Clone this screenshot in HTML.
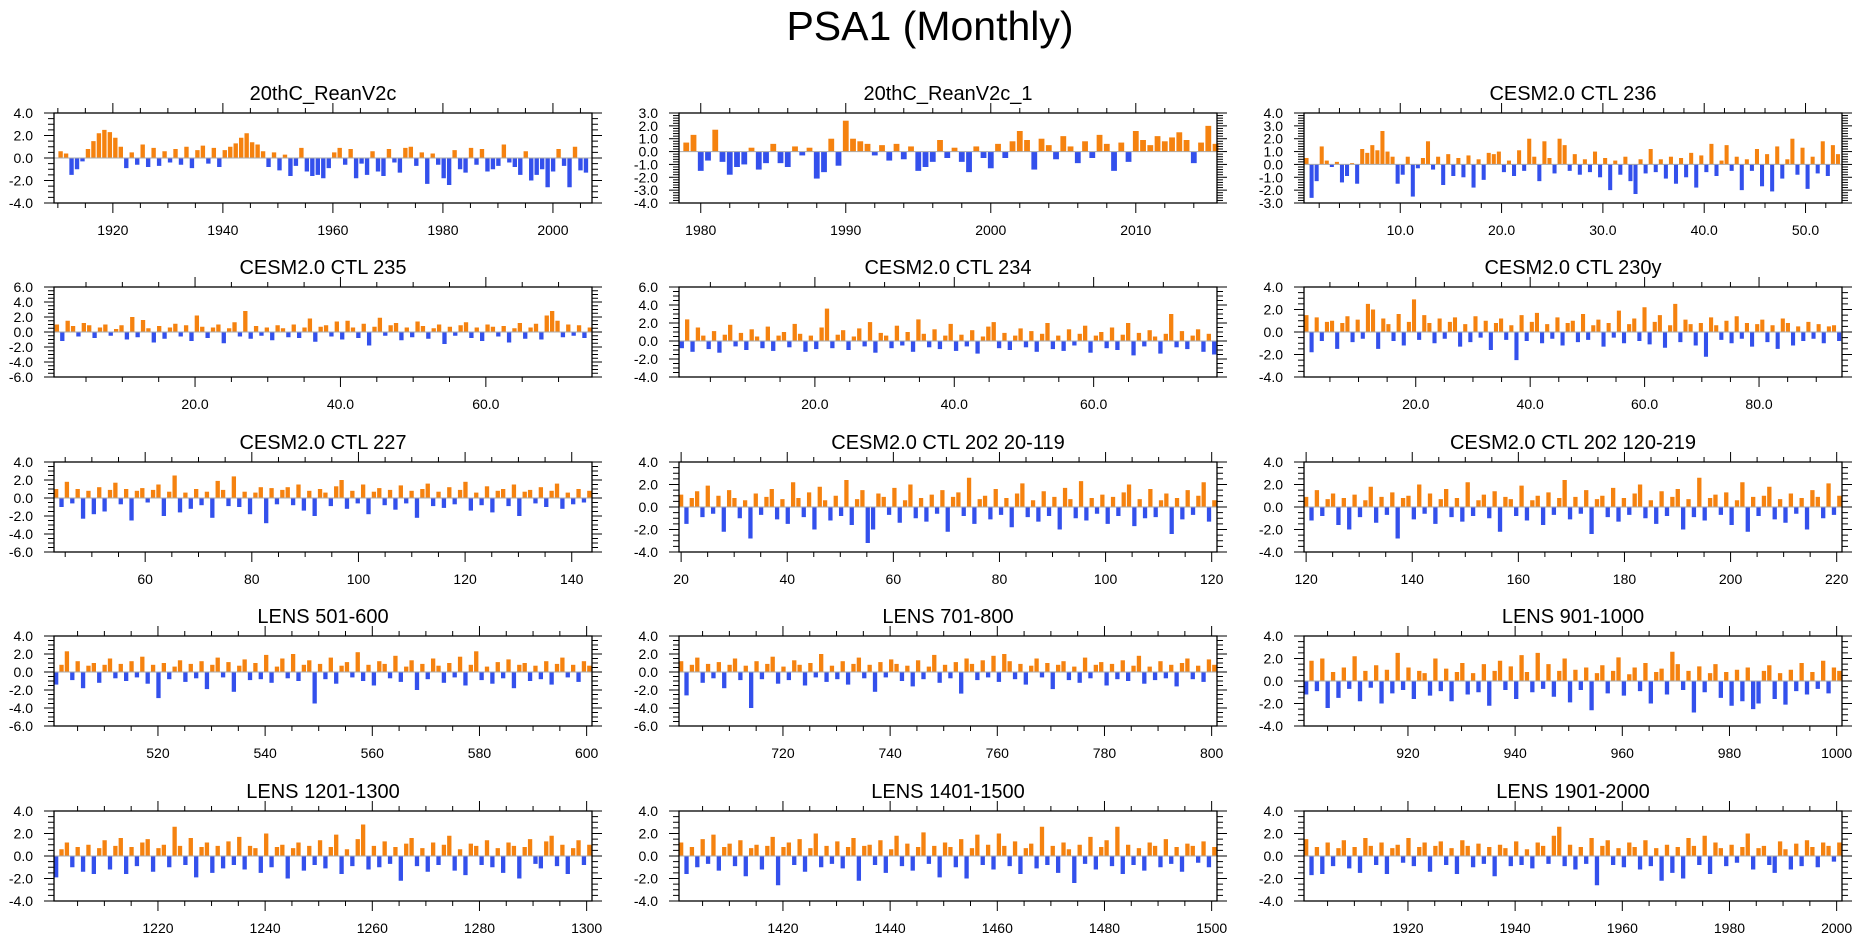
<!DOCTYPE html>
<html><head><meta charset="utf-8"><title>PSA1 (Monthly)</title>
<style>
html,body{margin:0;padding:0;background:#fff;}
svg{display:block;font-family:"Liberation Sans",Arial,sans-serif;}
</style></head>
<body>
<svg id="chart" width="1861" height="936" viewBox="0 0 1861 936" xmlns="http://www.w3.org/2000/svg">
<rect width="1861" height="936" fill="#fff"/>
<text x="930" y="40" font-size="41" text-anchor="middle" fill="#000">PSA1 (Monthly)</text>
</svg>
<script>
const p1Values=[0.6,0.4,-1.5,-1.0,-0.3,0.8,1.5,2.2,2.5,2.3,1.8,1.0,-0.9,0.5,-0.6,1.2,-0.8,0.9,-0.7,0.6,-0.4,0.8,-0.6,1.0,-0.9,0.7,1.1,-0.5,0.9,-0.8,0.7,1.0,1.3,1.8,2.2,1.4,1.2,0.6,-0.8,0.5,-1.1,0.3,-1.6,-0.7,0.9,-1.2,-1.6,-1.5,-1.8,-0.9,0.5,0.9,-0.6,0.8,-1.8,-0.5,-1.5,0.6,-1.2,-1.6,0.8,-0.4,-1.3,0.9,1.0,-0.7,0.5,-2.3,0.4,-0.6,-1.8,-2.4,0.7,-1.0,-1.3,0.9,-0.6,0.8,-1.2,-1.0,-0.7,1.2,-0.4,-0.8,-1.5,0.6,-2.0,-1.5,-1.0,-2.6,-1.2,0.8,-0.7,-2.6,1.0,-1.1,-1.3];
const p2Values=[0.7,1.3,-1.5,-0.7,1.7,-0.8,-1.8,-1.2,-1.0,0.3,-1.4,-0.9,0.6,-0.9,-1.2,0.4,-0.3,0.3,-2.1,-1.6,1.0,-1.1,2.4,1.0,0.8,0.6,-0.3,0.5,-0.7,0.6,-0.6,0.4,-1.5,-1.2,-0.8,0.9,-0.5,0.3,-0.8,-1.6,0.4,-0.5,-1.3,0.6,-0.5,0.8,1.6,0.9,-1.4,1.0,0.5,-0.6,1.2,0.4,-0.9,0.8,-0.5,1.3,0.6,-1.5,0.7,-0.8,1.6,0.9,0.5,1.2,0.8,1.1,1.5,0.9,-0.9,0.7,2.0,0.6];
const p3Values=[0.5,-2.6,-1.3,1.4,0.3,-0.2,0.2,-1.4,-0.9,0.1,-1.5,1.2,0.9,1.5,1.1,2.6,1.0,0.6,-1.5,-0.8,0.6,-2.5,-0.3,0.5,1.8,-0.4,0.6,-1.6,0.8,-0.9,0.5,-1.0,0.7,-1.8,0.4,-1.2,0.9,0.8,1.0,-0.6,0.3,-0.9,1.1,-0.5,2.0,0.6,-1.3,1.8,0.5,-0.7,2.0,1.5,-0.5,0.8,-0.8,0.4,-0.6,1.0,-1.0,0.5,-2.0,0.3,-0.8,0.6,-1.3,-2.3,0.4,-0.7,1.2,-0.6,0.4,-1.1,0.6,-1.5,0.5,-1.0,0.9,-1.8,0.7,-0.6,1.6,-0.9,0.3,1.5,-0.5,0.6,-2.0,0.4,-0.5,1.2,-1.7,0.8,-2.1,1.4,-1.1,0.4,2.0,-0.8,1.3,-1.9,0.6,-0.7,1.8,-0.9,1.5,0.8];
const p4Values=[1.0,-1.2,1.5,0.8,-0.6,1.2,0.9,-0.8,0.6,1.0,-0.5,0.4,0.9,-1.0,2.0,-0.7,1.6,0.5,-1.4,0.8,-0.9,0.6,1.1,-0.6,0.9,-1.2,2.2,0.7,-0.8,0.6,1.0,-1.5,0.5,1.3,-0.6,2.8,-0.9,0.8,-0.5,0.6,-1.1,0.9,0.5,-0.7,1.0,-0.8,0.6,1.8,-1.3,0.7,0.9,-0.6,1.4,-1.0,1.5,0.6,-0.8,1.1,-1.8,0.7,1.9,-0.5,0.9,1.2,-1.1,0.6,-0.7,1.4,0.8,-0.9,0.5,1.0,-1.6,0.7,-0.5,0.9,1.3,-0.8,0.6,-1.2,1.0,0.7,-0.6,0.8,-1.4,0.5,1.2,-0.9,0.6,1.1,-1.0,2.2,2.8,1.5,-0.7,1.0,-0.5,0.9,-0.8,0.6];
const p5Values=[-0.8,2.4,-1.2,1.5,0.6,-0.9,1.1,-1.3,0.7,1.8,-0.6,0.9,-1.0,1.3,0.5,-0.8,1.6,-1.1,0.6,1.0,-0.7,1.9,0.8,-1.2,0.6,-0.9,1.5,3.6,-0.8,0.7,1.2,-1.0,0.5,1.4,-0.6,2.1,-1.3,0.9,0.6,-0.8,1.7,-0.5,1.0,-1.2,2.4,0.8,-0.7,1.3,-0.9,0.6,1.9,-1.1,0.7,-0.6,1.2,-1.4,0.5,1.6,2.1,-0.8,0.9,-1.0,0.6,1.4,-0.7,1.1,-1.2,0.8,2.0,-0.9,0.6,-1.1,1.3,-0.5,0.8,1.7,-1.3,0.6,1.0,-0.8,1.5,-1.0,0.7,2.0,-1.6,0.9,-0.6,1.2,0.5,-1.4,0.8,3.0,-0.7,1.1,-0.9,0.6,1.3,-1.2,0.8,-1.5];
const p6Values=[1.5,-1.8,1.3,-0.8,0.9,1.0,-1.5,0.8,1.4,-0.9,1.1,-0.6,2.5,2.0,-1.5,1.2,0.7,-0.8,1.6,-1.2,0.9,2.9,-0.7,1.5,0.8,-1.0,1.2,-0.6,0.9,1.3,-1.3,0.7,-0.9,1.4,-0.5,1.0,-1.6,0.8,1.2,-0.7,0.6,-2.5,1.5,-0.8,0.9,1.7,-1.0,0.7,-0.6,1.3,-1.2,0.8,1.0,-0.9,1.6,-0.7,0.6,1.1,-1.3,0.8,-0.5,1.9,-1.0,0.7,1.2,-0.8,2.2,-1.1,0.9,1.5,-1.4,0.6,2.5,-0.9,1.1,0.7,-1.2,0.8,-2.2,1.3,0.6,-0.7,1.0,-1.0,1.4,-0.6,0.8,-1.3,0.7,1.1,-0.9,0.6,-1.5,1.2,0.8,-1.2,0.5,-0.8,0.9,-0.6,0.7,-1.0,0.5,0.6,-0.8];
const p7Values=[1.0,-1.0,1.8,-0.6,1.0,-2.3,0.8,-1.8,1.2,-1.5,0.9,1.7,-0.7,1.0,-2.5,0.8,1.1,-0.5,0.9,1.5,-2.0,0.7,2.5,-1.6,0.6,-1.2,1.0,-0.8,0.7,-2.2,1.9,0.9,-0.9,2.4,-1.0,0.7,-1.8,0.6,1.2,-2.8,1.1,-0.7,0.9,1.2,-0.8,1.5,-1.4,0.8,-2.0,1.0,0.6,-0.9,1.3,2.0,-1.2,0.8,-0.6,1.5,-1.8,0.7,1.1,-0.8,0.9,-1.3,1.4,-0.6,0.8,-2.2,1.0,1.6,-0.9,0.7,-1.1,1.2,-0.7,0.9,1.8,-1.4,0.6,-0.8,1.3,-1.6,0.8,1.0,-0.9,1.5,-2.0,0.7,0.9,-0.6,1.2,-1.0,0.8,1.6,-1.2,0.6,-0.7,1.0,-0.5,0.8];
const p8Values=[1.1,-1.5,0.8,1.4,-0.9,1.9,-0.6,1.0,-2.2,1.5,0.8,-1.0,0.6,-2.8,1.2,-0.7,0.9,1.6,-1.1,0.7,-1.5,2.2,0.8,-0.9,1.3,-2.0,1.8,0.6,-1.2,1.0,-0.8,2.4,-1.6,0.7,1.5,-3.2,-2.0,1.2,0.9,-0.7,1.7,-1.4,0.6,2.0,-1.0,0.8,-1.3,1.1,-0.6,1.5,-2.2,0.9,1.3,-0.8,2.6,-1.5,0.7,1.0,-1.1,1.6,-0.7,0.8,-1.8,1.2,2.1,-0.9,0.6,-1.3,1.4,-0.8,0.9,-2.0,1.7,0.7,-1.0,2.3,-1.2,0.8,-0.6,1.1,-1.5,0.9,-0.8,1.3,2.0,-1.7,0.7,-1.0,1.6,-0.9,0.6,1.2,-2.4,0.8,-1.1,1.5,-0.7,1.0,2.2,-1.3,0.6];
const p9Values=[0.9,-1.2,1.5,-0.8,0.7,1.2,-1.6,0.8,-2.0,1.1,-0.9,0.6,1.8,-1.4,0.9,-0.7,1.3,-2.8,0.8,1.0,-1.1,2.0,-0.6,1.2,-1.5,0.7,1.6,-0.9,0.8,-1.3,2.2,-0.8,0.6,1.1,-1.0,1.4,-2.2,0.9,0.7,-0.8,1.9,-1.2,0.6,1.0,-1.6,1.3,-0.7,0.8,2.4,-1.1,0.9,-0.6,1.5,-2.4,0.7,1.0,-0.9,1.7,-1.3,0.8,-0.7,1.2,2.0,-1.0,0.6,-1.5,1.4,-0.8,0.9,1.6,-2.0,0.7,-0.9,2.6,-1.2,0.8,1.1,-0.7,1.3,-1.6,0.6,2.2,-2.2,0.9,-0.8,1.0,1.8,-1.1,0.7,-1.4,1.2,-0.6,0.8,-2.0,1.5,0.9,-1.0,2.1,-0.7,1.0];
const p10Values=[-1.4,0.8,2.3,-0.9,1.2,-1.8,0.7,1.0,-1.2,0.8,1.5,-0.7,0.9,-1.0,1.2,-0.6,1.7,-1.3,0.8,-2.9,1.0,-0.8,0.6,1.3,-1.1,0.9,-0.7,1.2,-1.9,0.8,1.6,-0.6,1.1,-2.2,0.7,1.4,-0.9,1.0,-0.8,1.9,-1.2,0.6,1.5,-0.7,2.0,-1.0,0.8,1.3,-3.5,0.9,-0.8,1.6,-1.3,0.7,1.1,-0.6,2.2,-1.0,0.8,-1.5,1.2,0.9,-0.7,1.8,-1.1,0.6,1.3,-2.0,0.9,-0.8,1.5,0.7,-1.2,1.0,-0.6,1.7,-1.5,0.8,2.3,-0.9,0.6,-1.3,1.1,-0.7,1.4,-1.8,0.8,1.0,-1.0,0.7,-0.8,1.2,-1.4,0.9,1.6,-0.6,0.8,-1.1,1.2,0.7];
const p11Values=[1.2,-2.6,0.8,1.6,-1.2,0.9,-0.7,1.1,-1.8,0.8,1.5,-0.9,0.7,-4.0,1.2,-0.8,0.9,1.7,-1.3,0.6,-0.9,1.3,0.8,-1.5,1.0,-0.6,2.0,-1.1,0.7,-0.8,1.2,-1.4,0.9,1.6,-0.7,0.8,-2.2,1.1,-0.6,1.4,0.9,-1.0,0.7,-1.6,1.3,-0.8,0.6,1.9,-1.2,0.8,-0.7,1.1,-2.4,1.5,0.9,-0.9,1.3,-0.6,1.8,-1.1,2.0,1.2,-0.8,0.9,-1.4,0.7,1.5,-0.6,1.0,-1.9,0.8,1.2,-0.9,0.6,-1.2,1.6,-0.7,0.8,1.1,-1.5,0.9,-0.8,1.3,-1.0,0.7,1.8,-1.3,0.6,-0.9,1.2,-0.7,0.8,-1.6,1.0,1.5,-0.8,0.7,-1.1,1.4,0.8];
const p12Values=[-1.2,1.8,-0.9,2.0,-2.4,0.8,-1.5,1.2,-0.7,2.2,-1.8,0.9,-0.6,1.4,-2.0,1.0,-1.1,2.5,-0.8,1.2,-1.6,0.9,0.7,-1.3,2.0,-0.9,1.1,-1.8,0.8,1.6,-1.2,0.7,-1.0,1.5,-2.2,0.9,1.8,-0.8,1.3,-1.6,2.3,0.8,-1.0,2.5,-0.7,1.5,-1.4,0.9,2.0,-1.9,1.0,-0.8,1.2,-2.6,0.7,1.4,-1.1,0.9,2.1,-1.3,0.6,1.2,-0.9,1.6,-2.0,0.8,1.1,-1.2,2.6,1.5,-0.8,0.9,-2.8,1.3,-1.0,0.7,1.5,-1.5,0.8,-2.2,1.0,-1.8,1.2,-2.5,-2.0,0.9,1.4,-1.6,0.7,-2.1,1.0,-0.9,1.6,-1.2,0.8,-0.7,1.8,-1.1,1.2,0.9];
const p13Values=[-1.9,0.6,1.2,-1.0,0.8,-1.4,1.0,-1.6,0.7,1.4,-1.2,0.9,1.6,-1.6,0.8,-0.9,1.2,1.5,-1.4,0.7,1.0,-1.0,2.6,0.9,-0.8,1.6,-1.9,0.8,1.2,-1.5,0.9,-1.1,1.3,-0.8,1.7,-1.2,0.9,0.7,-1.5,2.0,-1.0,0.8,1.0,-2.0,0.7,1.2,-1.3,0.9,-0.8,1.4,-1.1,0.8,1.9,-1.6,0.6,-0.9,1.5,2.8,-1.2,0.9,-1.0,1.3,-0.7,0.8,-2.2,1.1,1.6,-0.9,0.7,-1.4,1.2,-0.8,1.0,1.8,-1.3,0.6,-1.7,1.1,0.9,-0.8,1.4,-1.0,0.7,-1.5,1.2,0.9,-2.0,0.8,1.5,-0.7,-1.1,1.3,1.8,-0.9,1.0,-1.6,0.7,1.4,-0.8,1.0];
const p14Values=[1.2,-1.6,0.8,-1.0,1.5,-0.7,1.9,-1.3,0.8,1.1,-0.9,1.4,-1.8,0.7,1.0,-1.2,0.9,1.7,-2.6,0.8,1.2,-0.8,1.5,-1.4,0.7,2.0,-1.0,0.9,-0.7,1.3,-1.1,0.8,1.6,-2.2,0.9,1.0,-0.8,1.4,-1.5,0.6,1.8,-0.9,1.1,-1.3,0.8,2.1,-0.7,0.9,-1.9,1.2,0.8,-1.0,1.5,-2.0,0.7,1.9,-0.8,1.0,-1.2,2.0,0.9,-0.9,1.3,-1.6,0.7,1.1,-1.1,2.6,-0.8,0.9,-1.5,1.2,0.6,-2.4,1.0,-0.7,1.7,-1.2,0.8,1.4,-0.9,2.6,-1.6,1.0,-0.8,0.7,-1.3,1.2,0.9,-1.0,1.5,-0.7,0.8,-1.4,1.1,0.9,-0.6,1.3,-1.0,0.8];
const p15Values=[1.5,-1.7,0.8,-1.6,1.2,-0.9,0.7,1.4,-1.1,0.8,-1.5,1.6,0.9,-0.8,1.2,-1.6,0.7,1.0,-0.6,1.6,-0.9,0.8,1.2,-1.4,0.9,1.3,-0.8,0.7,-1.6,1.4,0.9,-1.0,1.1,-0.7,0.8,-1.8,1.0,0.7,-0.9,1.3,-0.8,0.6,-1.1,1.2,0.9,-0.7,1.8,2.6,-0.9,1.0,-1.2,0.8,-0.7,1.6,-2.6,0.9,1.4,-0.8,0.7,-1.0,1.2,0.8,-1.2,1.4,-0.9,0.7,-2.2,1.0,-1.5,0.8,-2.0,1.6,0.9,-0.8,1.8,-1.6,1.2,0.7,-0.9,1.0,-0.6,0.8,2.0,-1.2,0.7,0.9,-0.8,-1.5,1.3,0.6,-1.2,1.1,-0.9,1.4,0.8,-1.0,1.2,0.9,-0.5,1.2];

const panelTitles=["20thC_ReanV2c","20thC_ReanV2c_1","CESM2.0 CTL 236","CESM2.0 CTL 235","CESM2.0 CTL 234","CESM2.0 CTL 230y","CESM2.0 CTL 227","CESM2.0 CTL 202 20-119","CESM2.0 CTL 202 120-219","LENS 501-600","LENS 701-800","LENS 901-1000","LENS 1201-1300","LENS 1401-1500","LENS 1901-2000"];
const panelValues=[p1Values,p2Values,p3Values,p4Values,p5Values,p6Values,p7Values,p8Values,p9Values,p10Values,p11Values,p12Values,p13Values,p14Values,p15Values];
// axis ranges: [xmin,xmax,dataStart,dataEnd,xMajor,xMinor,xDecimals,ymin,ymax,yMajor,yMinor]
const axisRanges=[
 [1909.3,2007.1,1910.5,2006.0,20,5,0,-4,4,2,0.5],
 [1978.5,2015.6,1979.0,2015.5,10,2,0,-4,3,1,0.2],
 [0.5,53.6,0.75,53.2,10,2,1,-3,4,1,0.2],
 [0.6,74.6,1.0,74.3,20,5,1,-6,6,2,0.5],
 [0.5,77.7,0.9,77.3,20,5,1,-4,6,2,0.5],
 [0.47,94.5,0.9,94.0,20,5,1,-4,4,2,0.5],
 [42.9,143.8,43.3,143.3,20,5,0,-6,4,2,0.5],
 [19.6,121.0,20.0,120.5,20,5,0,-4,4,2,0.5],
 [119.6,221.0,120.0,220.5,20,5,0,-4,4,2,0.5],
 [500.6,601.0,501.0,600.5,20,5,0,-6,4,2,0.5],
 [700.6,801.0,701.0,800.5,20,5,0,-6,4,2,0.5],
 [900.6,1001.0,901.0,1000.5,20,5,0,-4,4,2,0.5],
 [1200.6,1301.0,1201.0,1300.5,20,5,0,-4,4,2,0.5],
 [1400.6,1501.0,1401.0,1500.5,20,5,0,-4,4,2,0.5],
 [1900.6,2001.0,1901.0,2000.5,20,5,0,-4,4,2,0.5]
];

const NS="http://www.w3.org/2000/svg";
const svg=document.getElementById('chart');
const colX=[54,679,1304], rowY=[113,287,462,636,811], PW=538, PH=90;
function mk(tag,attrs,parent){const e=document.createElementNS(NS,tag);for(const k in attrs)e.setAttribute(k,attrs[k]);parent.appendChild(e);return e;}

panelValues.forEach((vals,p)=>{
  const [xmin,xmax,ds,de,xMaj,xMin,xDec,ymin,ymax,yMaj,yMin]=axisRanges[p];
  const L=colX[p%3], T=rowY[Math.floor(p/3)];
  const g=mk('g',{},svg);
  
  
  const sx=x=>L+(x-xmin)/(xmax-xmin)*PW;
  const sy=y=>T+(ymax-y)/(ymax-ymin)*PH;
  const t=mk('text',{x:L+PW/2,y:T-13,'font-size':20,'text-anchor':'middle',fill:'#000'},g);
  t.textContent=panelTitles[p];
  
  
  const n=vals.length, step=(de-ds)/(n-1);
  const bw=Math.max(1.2,(sx(ds+step)-sx(ds))*0.8);
  const y0=sy(0);
  vals.forEach((v,i)=>{
    const cx=sx(ds+i*step), yv=sy(v);
    const r=mk('rect',{x:(cx-bw/2).toFixed(2),y:Math.min(y0,yv).toFixed(2),width:bw.toFixed(2),height:Math.abs(yv-y0).toFixed(2),fill:v>=0?'#f5820f':'#3350ec'},g);
    
    
  });
  mk('line',{x1:L,x2:L+PW,y1:y0,y2:y0,stroke:'#aaa','stroke-width':1},g);
  const b=mk('rect',{x:L,y:T,width:PW,height:PH,fill:'none',stroke:'#000','stroke-width':1.3},g);
  
  
  const kY=Math.round(yMaj/yMin);
  for(let k=Math.ceil(ymin/yMin-1e-6);k*yMin<=ymax+1e-6;k++){
    const v=k*yMin, yy=sy(v), major=(k%kY===0), len=major?10:6;
    mk('line',{x1:L-len,x2:L,y1:yy,y2:yy,stroke:'#000','stroke-width':1},g);
    mk('line',{x1:L+PW,x2:L+PW+len,y1:yy,y2:yy,stroke:'#000','stroke-width':1},g);
    if(major){
      const lt=mk('text',{x:L-21,y:yy+5,'font-size':14,'text-anchor':'end',fill:'#000'},g);
      lt.textContent=v.toFixed(1);
      
      
    }
  }
  const kX=Math.round(xMaj/xMin);
  for(let k=Math.ceil(xmin/xMin-1e-6);k*xMin<=xmax+1e-6;k++){
    const v=k*xMin, xx=sx(v), major=(k%kX===0), len=major?10:5;
    mk('line',{x1:xx,x2:xx,y1:T+PH,y2:T+PH+len,stroke:'#000','stroke-width':1},g);
    mk('line',{x1:xx,x2:xx,y1:T-len,y2:T,stroke:'#000','stroke-width':1},g);
    if(major){
      const xt=mk('text',{x:xx,y:T+PH+32,'font-size':14,'text-anchor':'middle',fill:'#000'},g);
      xt.textContent=v.toFixed(xDec);
      
      
    }
  }
});
</script>
</body></html>
